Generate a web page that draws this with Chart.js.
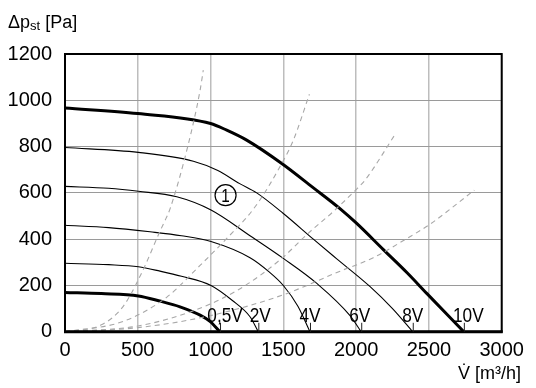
<!DOCTYPE html>
<html><head><meta charset="utf-8">
<script src="https://cdn.jsdelivr.net/npm/chart.js@4/dist/chart.umd.min.js"></script>
<style>html,body{margin:0;padding:0;background:#fff}</style>
</head><body>
<canvas id="c" width="536" height="388"></canvas>
<script>
// ---- data ----
const xTicks = [0, 500, 1000, 1500, 2000, 2500, 3000];
const yTicks = [0, 200, 400, 600, 800, 1000, 1200];
const curveLabels = ['0,5V', '2V', '4V', '6V', '8V', '10V'];

// fan curves (V in m3/h, p in Pa)
const v05 = [0, 250, 504, 650, 790, 928, 996, 1065];
const p05 = [170, 165, 155, 133, 108, 72, 45, 0];
const v2 = [0, 300, 504, 653, 800, 1003, 1150, 1271, 1328];
const p2 = [296, 290, 281, 262, 240, 200, 135, 65, 0];
const v4 = [0, 300, 584, 800, 1003, 1271, 1400, 1500, 1600, 1683];
const p4 = [460, 450, 432, 415, 390, 320, 260, 200, 110, 0];
const v6 = [0, 300, 504, 768, 1003, 1271, 1500, 1730, 1958, 2035];
const p6 = [628, 620, 607, 583, 526, 415, 317, 209, 70, 0];
const v8 = [0, 504, 882, 1050, 1200, 1317, 1500, 1706, 1867, 2096, 2250, 2389];
const p8 = [796, 775, 737, 697, 640, 600, 511, 400, 315, 195, 100, 0];
const v10 = [0, 500, 1000, 1111, 1248, 1489, 1700, 1893, 2004, 2187, 2350, 2485, 2740];
const p10 = [967, 943, 900, 871, 828, 727, 625, 530, 468, 355, 255, 166, 0];

// system (dashed) curves
const s1V = [0, 250, 400, 527, 653, 694, 721, 843, 928, 950];
const s1P = [0, 30, 110, 255, 435, 490, 530, 800, 1043, 1130];
const s2V = [0, 400, 700, 928, 1100, 1306, 1489, 1569, 1679];
const s2P = [0, 45, 150, 287, 396, 540, 727, 828, 1026];
const s3V = [0, 500, 900, 1200, 1489, 1661, 1844, 1993, 2061, 2272];
const s3P = [0, 25, 95, 185, 317, 420, 520, 610, 655, 857];
const s4V = [0, 500, 1000, 1500, 1890, 2118, 2348, 2508, 2812];
const s4P = [0, 18, 70, 160, 262, 320, 403, 465, 612];

const markerPoint = [1103, 590]; // position of the circled "1"

// ---- build datasets ----
const pts = (vs, ps) => vs.map((v, i) => ({x: v, y: ps[i]}));
const dashed = (vs, ps) => ({data: pts(vs, ps), showLine: true, borderColor: '#a8a8a8', borderWidth: 1.1,
  borderDash: [5, 4], pointRadius: 0, cubicInterpolationMode: 'monotone', fill: false});
const solid = (vs, ps, w) => ({data: pts(vs, ps), showLine: true, borderColor: '#000', borderWidth: w,
  pointRadius: 0, cubicInterpolationMode: 'monotone', fill: false});

const fanSets = [[v05, p05, 3], [v2, p2, 1.1], [v4, p4, 1.1], [v6, p6, 1.1], [v8, p8, 1.1], [v10, p10, 3]];

const datasets = [
  dashed(s1V, s1P), dashed(s2V, s2P), dashed(s3V, s3P), dashed(s4V, s4P),
  ...fanSets.map(f => solid(f[0], f[1], f[2]))
];

const FONT = '"Liberation Sans", Arial, sans-serif';

const annot = {
  id: 'annot',
  afterDatasetsDraw(chart) {
    const {ctx, chartArea: a, scales: {x, y}} = chart;
    ctx.save();
    // frame
    ctx.strokeStyle = '#000';
    ctx.lineWidth = 2;
    ctx.strokeRect(a.left, a.top, a.right - a.left, a.bottom - a.top);
    ctx.lineWidth = 3;
    ctx.beginPath(); ctx.moveTo(a.left - 1, a.bottom); ctx.lineTo(a.right + 1, a.bottom); ctx.stroke();

    // curve end ticks and labels
    const offs = [5, 2, 0, -1.5, 0, 4.5];
    fanSets.forEach((f, i) => {
      const vEnd = f[0][f[0].length - 1];
      const px = x.getPixelForValue(vEnd);
      ctx.lineWidth = 1;
      ctx.strokeStyle = '#222';
      ctx.beginPath(); ctx.moveTo(px + 0.5, a.bottom); ctx.lineTo(px + 0.5, a.bottom - 9); ctx.stroke();
      ctx.save();
      ctx.translate(px + offs[i], a.bottom - 10);
      ctx.scale(0.82, 1);
      ctx.font = '21px ' + FONT;
      ctx.fillStyle = '#000';
      ctx.textAlign = 'center';
      ctx.textBaseline = 'alphabetic';
      ctx.fillText(curveLabels[i], 0, 0);
      ctx.restore();
    });

    // circled 1
    const cx = x.getPixelForValue(markerPoint[0]);
    const cy = y.getPixelForValue(markerPoint[1]);
    ctx.lineWidth = 1.2;
    ctx.strokeStyle = '#000';
    ctx.beginPath(); ctx.arc(cx, cy, 10.5, 0, Math.PI * 2); ctx.stroke();
    ctx.save();
    ctx.translate(cx, cy + 6.5);
    ctx.scale(0.85, 1);
    ctx.font = '18px ' + FONT;
    ctx.fillStyle = '#000';
    ctx.textAlign = 'center';
    ctx.fillText('1', 0, 0);
    ctx.restore();

    // y axis title: Δp_st [Pa]
    ctx.fillStyle = '#000';
    ctx.textAlign = 'left';
    ctx.textBaseline = 'alphabetic';
    let tx = 8;
    ctx.font = '18px ' + FONT;
    ctx.fillText('Δp', tx, 28);
    tx += ctx.measureText('Δp').width;
    ctx.font = '13px ' + FONT;
    ctx.fillText('st', tx, 30);
    tx += ctx.measureText('st').width;
    ctx.font = '18px ' + FONT;
    ctx.fillText(' [Pa]', tx, 28);

    // x axis title
    ctx.textAlign = 'right';
    ctx.font = '18px ' + FONT;
    ctx.fillText('V\u0307 [m³/h]', 521, 378.5);
    ctx.restore();
  }
};

new Chart(document.getElementById('c'), {
  type: 'scatter',
  data: {datasets},
  options: {
    responsive: false,
    animation: false,
    events: [],
    devicePixelRatio: 1,
    layout: {padding: {left: 0, top: 54, right: 34.3, bottom: 0}},
    plugins: {legend: {display: false}, tooltip: {enabled: false}},
    scales: {
      x: {
        type: 'linear', min: 0, max: 3000,
        afterBuildTicks: s => { s.ticks = xTicks.map(v => ({value: v})); },
        afterFit: s => { s.height = 56.2; },
        grid: {color: '#bdbdbd', lineWidth: 1.5, drawTicks: false},
        border: {display: false},
        ticks: {color: '#000', padding: 7, maxRotation: 0, font: {family: FONT, size: 20},
          callback: v => String(v)}
      },
      y: {
        type: 'linear', min: 0, max: 1200,
        afterBuildTicks: s => { s.ticks = yTicks.map(v => ({value: v})); },
        afterFit: s => { s.width = 65; },
        grid: {color: '#9a9a9a', lineWidth: 1, drawTicks: false},
        border: {display: false},
        ticks: {color: '#000', padding: 13, font: {family: FONT, size: 20},
          callback: v => String(v)}
      }
    }
  },
  plugins: [annot]
});
</script>
</body></html>
